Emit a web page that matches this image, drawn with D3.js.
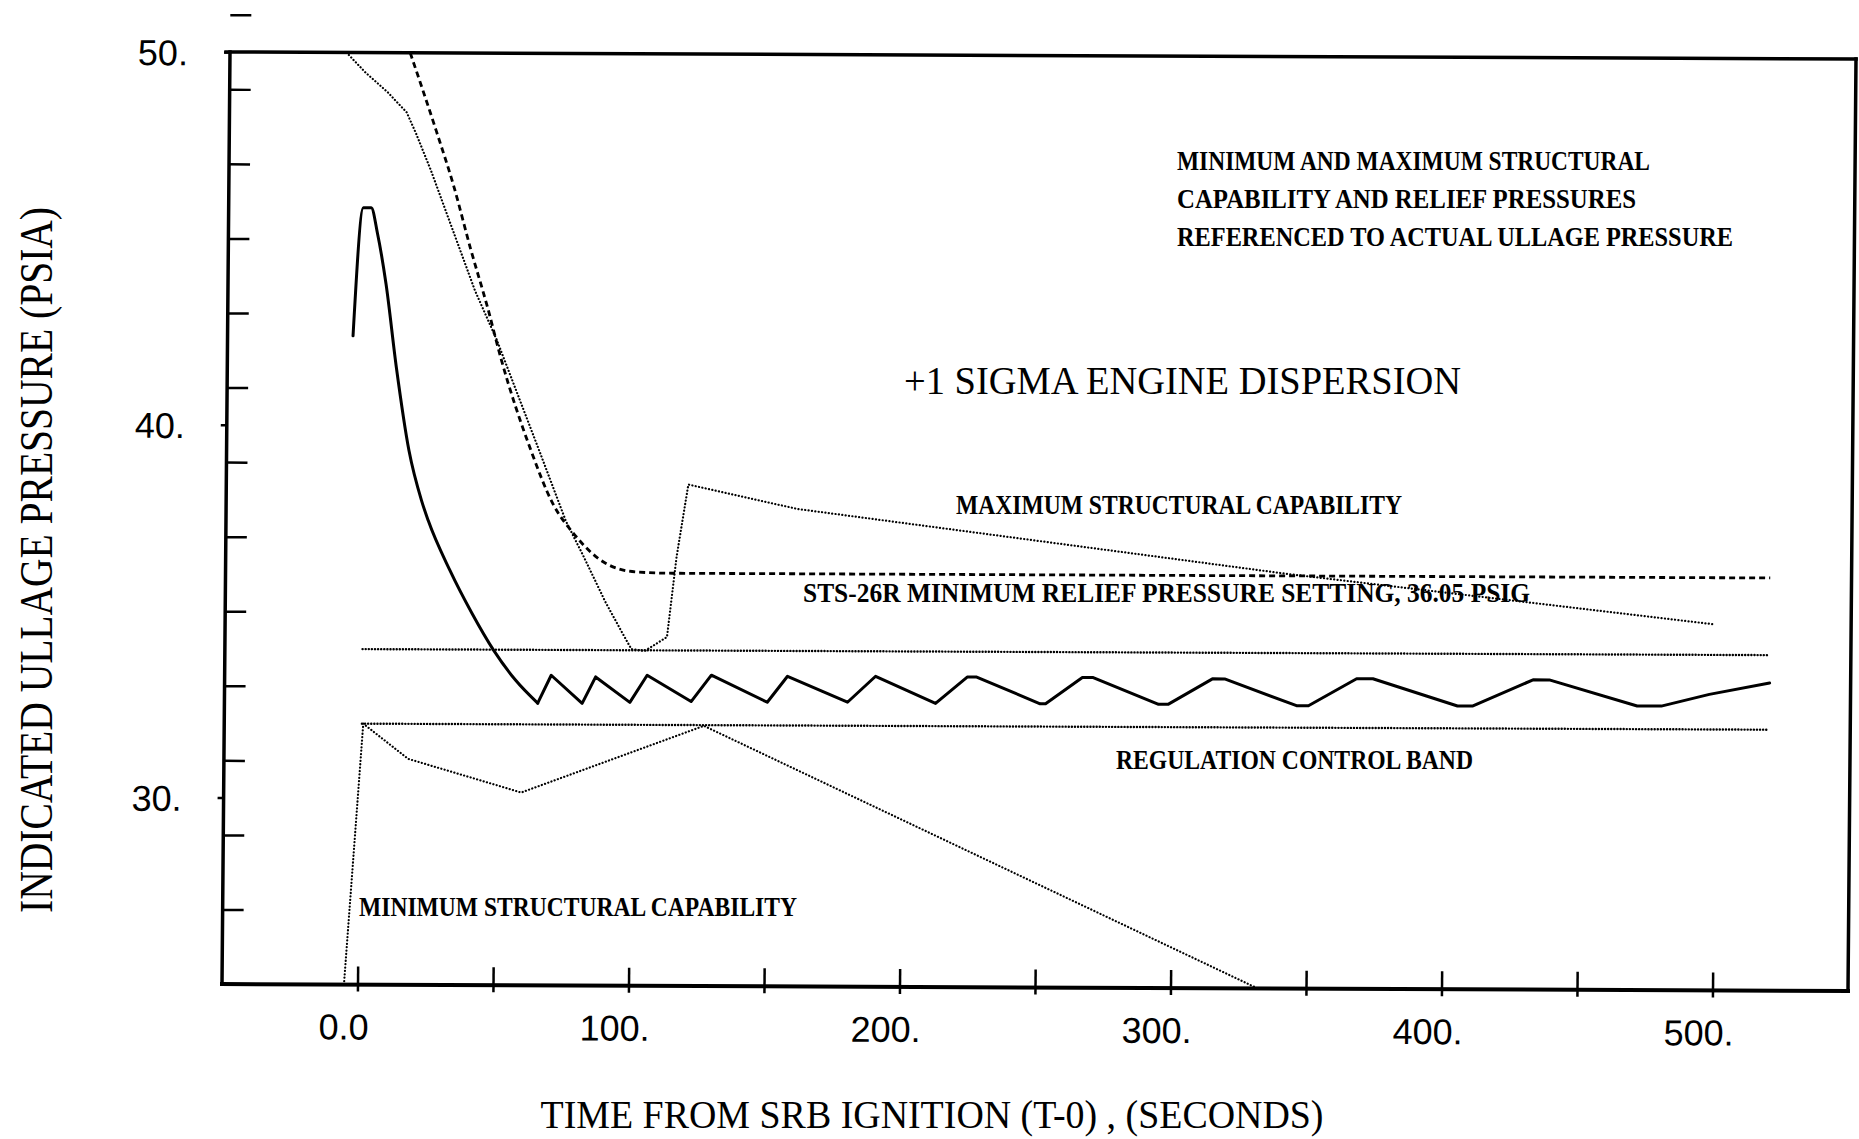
<!DOCTYPE html>
<html><head><meta charset="utf-8">
<script src="https://cdn.jsdelivr.net/npm/d3@7"></script>
<style>html,body{margin:0;padding:0;background:#fff;}svg{display:block;}</style>
</head><body>
<svg id="chart" width="1859" height="1139"></svg>
<script>
// ---- axis ticks ----
const xTickValues = [0,50,100,150,200,250,300,350,400,450,500];
const xLabelValues = [0,100,200,300,400,500];
const xLabelText = ["0.0","100.","200.","300.","400.","500."];
const yLabelValues = [30,40,50];
const yLabelText = ["30.","40.","50."];
const yMinorTicks = [27,29,31,33,35,37,39,41,43,45,47,49,51];

// ---- series (time s, pressure psia) ----
const ullageTime = [-3.7,-0.3,2.6,5,8.3,12.4,17.3,22.1,24.6,32.8,41,49.2,57.4,65.6,70.5,82,86.9,99.6,105.9,122.2,129.6,150.3,157.7,179.9,190.2,212.4,224,227.5,251,253,266.5,270.5,294.7,298.2,314.5,319,345.6,350,367.7,373.7,405,410.5,432.8,438.8,471.3,480.2,497.9,520.1];
const ullagePsia = [42.4,45.84,45.84,45.15,43.8,41.55,39.33,37.99,37.46,36.12,34.98,33.98,33.18,32.57,33.32,32.57,33.28,32.6,33.33,32.63,33.34,32.62,33.32,32.63,33.33,32.61,33.32,33.32,32.61,32.61,33.32,33.32,32.61,32.61,33.3,33.3,32.59,32.59,33.32,33.32,32.6,32.6,33.31,33.31,32.62,32.62,32.94,33.25];
const decayEnd = 13; // index where the regulated sawtooth begins

const reliefTime = [16.5,26.4,32.9,39.4,46,51,62.3,70.5,78.7,90.2,101.6,114.8,140,520];
const reliefPsia = [50,47.9,46.45,44.75,43.14,41.8,39.35,37.93,37.09,36.33,36.1,36.07,36.07,36.07];

const maxCapTime = [-7,0,8.3,15.4,19,24.5,41.2,49.4,65.6,75.4,82,90.2,96.7,100,104.9,113.1,116.4,120.5,160.7,341,499.4];
const maxCapPsia = [50,49.47,48.94,48.4,47.82,46.85,43.62,42.3,39.3,37.46,36.52,35.3,34.45,34.03,33.98,34.36,36.52,38.45,37.81,36.13,34.82];

const minCapTime = [-5,1.3,18,59.8,127,332.2];
const minCapPsia = [25,32.0,31.06,30.17,31.98,25];

const bandTime = [0.8,520];
const bandUpper = [34.0,34.0];
const bandLower = [32.0,32.0];

// ---- layout ----
const svg = d3.select("#chart");
const x = d3.scaleLinear().domain([-50,550]).range([226,1852]);
const y = d3.scaleLinear().domain([25,50]).range([988,55]);

// the scanned original is slightly skewed; reproduce with an affine transform
const g = svg.append("g").attr("transform","matrix(1,0.004305,-0.008574,0.99893,4.47,-3.91)");

g.append("clipPath").attr("id","plotclip").append("rect")
  .attr("x",x(-50)).attr("y",y(50)).attr("width",x(550)-x(-50)).attr("height",y(25)-y(50));

const zip = (a,b)=>a.map((t,i)=>[t,b[i]]);
const lineLin = d3.line().x(d=>x(d[0])).y(d=>y(d[1]));
const lineSmooth = d3.line().x(d=>x(d[0])).y(d=>y(d[1])).curve(d3.curveMonotoneX);

const plot = g.append("g").attr("clip-path","url(#plotclip)");

// band lines
[bandUpper,bandLower].forEach(v=>{
  plot.append("path").datum(zip(bandTime,v)).attr("d",lineLin)
    .attr("fill","none").attr("stroke","#000").attr("stroke-width",2.4)
    .attr("stroke-dasharray","0.1,3").attr("stroke-linecap","round");
});
// max structural capability
plot.append("path").datum(zip(maxCapTime,maxCapPsia)).attr("d",lineLin)
  .attr("fill","none").attr("stroke","#000").attr("stroke-width",2.2)
  .attr("stroke-dasharray","0.1,3.3").attr("stroke-linecap","round");
// min structural capability
plot.append("path").datum(zip(minCapTime,minCapPsia)).attr("d",lineLin)
  .attr("fill","none").attr("stroke","#000").attr("stroke-width",2.2)
  .attr("stroke-dasharray","0.1,3.3").attr("stroke-linecap","round");
// relief pressure
plot.append("path").datum(zip(reliefTime,reliefPsia)).attr("d",lineSmooth)
  .attr("fill","none").attr("stroke","#000").attr("stroke-width",2.8)
  .attr("stroke-dasharray","6,4");
// ullage pressure: smooth decay, then linear regulation sawtooth
const ullage = zip(ullageTime,ullagePsia);
plot.append("path").datum(ullage.slice(0,decayEnd+1)).attr("d",lineSmooth)
  .attr("fill","none").attr("stroke","#000").attr("stroke-width",3)
  .attr("stroke-linejoin","round").attr("stroke-linecap","round");
plot.append("path").datum(ullage.slice(decayEnd)).attr("d",lineLin)
  .attr("fill","none").attr("stroke","#000").attr("stroke-width",3)
  .attr("stroke-linejoin","round").attr("stroke-linecap","round");

// frame
const frame = g.append("g").attr("stroke","#000").attr("stroke-linecap","square");
frame.append("line").attr("x1",x(-50)-4).attr("x2",x(550)).attr("y1",y(50)).attr("y2",y(50)).attr("stroke-width",3.5);
frame.append("line").attr("x1",x(-50)).attr("x2",x(550)).attr("y1",y(25)).attr("y2",y(25)).attr("stroke-width",4);
frame.append("line").attr("x1",x(-50)).attr("x2",x(-50)).attr("y1",y(50)).attr("y2",y(25)).attr("stroke-width",3.5);
frame.append("line").attr("x1",x(550)).attr("x2",x(550)).attr("y1",y(50)).attr("y2",y(25)).attr("stroke-width",3.5);

// x axis
const xAxis = g.append("g").attr("transform",`translate(0,${y(25)})`)
  .call(d3.axisBottom(x).tickValues(xTickValues).tickSizeInner(-18).tickSizeOuter(0).tickFormat(""));
xAxis.select(".domain").remove();
xAxis.selectAll(".tick line").attr("y1",7).attr("stroke-width",2.5);

const xLab = g.append("g").attr("transform",`translate(0,${y(25)})`)
  .call(d3.axisBottom(x).tickValues(xLabelValues).tickSize(0)
    .tickFormat(d=>xLabelText[xLabelValues.indexOf(d)]));
xLab.select(".domain").remove();
xLab.selectAll(".tick text").attr("y",55).attr("dy",0).attr("dx",-14)
  .attr("font-family","'Liberation Sans', Arial, sans-serif").attr("font-size",36).attr("fill","#000");

// y axis labels (outward ticks)
const yAx = g.append("g").attr("transform",`translate(${x(-50)},0)`)
  .call(d3.axisLeft(y).tickValues(yLabelValues).tickSizeInner(6).tickSizeOuter(0).tickPadding(36)
    .tickFormat(d=>yLabelText[yLabelValues.indexOf(d)]));
yAx.select(".domain").remove();
yAx.selectAll(".tick line").attr("stroke-width",2.5);
yAx.selectAll(".tick text").attr("dy","0.36em")
  .attr("font-family","'Liberation Sans', Arial, sans-serif").attr("font-size",36).attr("fill","#000");

// y minor ticks (inward)
const yMin = g.append("g").attr("transform",`translate(${x(-50)},0)`)
  .call(d3.axisRight(y).tickValues(yMinorTicks).tickSizeInner(21).tickSizeOuter(0).tickFormat(""));
yMin.select(".domain").remove();
yMin.selectAll(".tick line").attr("stroke-width",2.5);

// ---- titles (screen coordinates) ----
svg.append("text").attr("transform","translate(52,560) rotate(-90)")
  .attr("text-anchor","middle").attr("font-family","'Liberation Serif', 'DejaVu Serif', serif")
  .attr("font-size",46).attr("textLength",706).attr("lengthAdjust","spacingAndGlyphs")
  .text("INDICATED ULLAGE PRESSURE  (PSIA)");
svg.append("text").attr("x",932).attr("y",1128)
  .attr("text-anchor","middle").attr("font-family","'Liberation Serif', 'DejaVu Serif', serif")
  .attr("font-size",39).attr("textLength",783).attr("lengthAdjust","spacingAndGlyphs")
  .text("TIME FROM SRB IGNITION (T-0) , (SECONDS)");

// ---- annotations ----
const notes = [
  {t:"MINIMUM AND MAXIMUM STRUCTURAL", x:1177, y:170, w:473, s:27, b:true},
  {t:"CAPABILITY AND RELIEF PRESSURES", x:1177, y:208, w:459, s:27, b:true},
  {t:"REFERENCED TO ACTUAL ULLAGE PRESSURE", x:1177, y:246, w:556, s:27, b:true},
  {t:"+1 SIGMA ENGINE DISPERSION", x:904, y:394, w:557, s:40, b:false},
  {t:"MAXIMUM STRUCTURAL CAPABILITY", x:956, y:514, w:446, s:28, b:true},
  {t:"STS-26R MINIMUM RELIEF PRESSURE SETTING, 36.05 PSIG", x:803, y:602, w:727, s:28, b:true},
  {t:"REGULATION CONTROL BAND", x:1116, y:769, w:357, s:28, b:true},
  {t:"MINIMUM STRUCTURAL CAPABILITY", x:359, y:916, w:438, s:28, b:true}
];
svg.append("g").selectAll("text").data(notes).join("text")
  .attr("x",d=>d.x).attr("y",d=>d.y)
  .attr("font-family","'Liberation Serif', 'DejaVu Serif', serif")
  .attr("font-weight",d=>d.b?"bold":"normal")
  .attr("font-size",d=>d.s)
  .attr("textLength",d=>d.w).attr("lengthAdjust","spacingAndGlyphs")
  .text(d=>d.t);
</script>
</body></html>
